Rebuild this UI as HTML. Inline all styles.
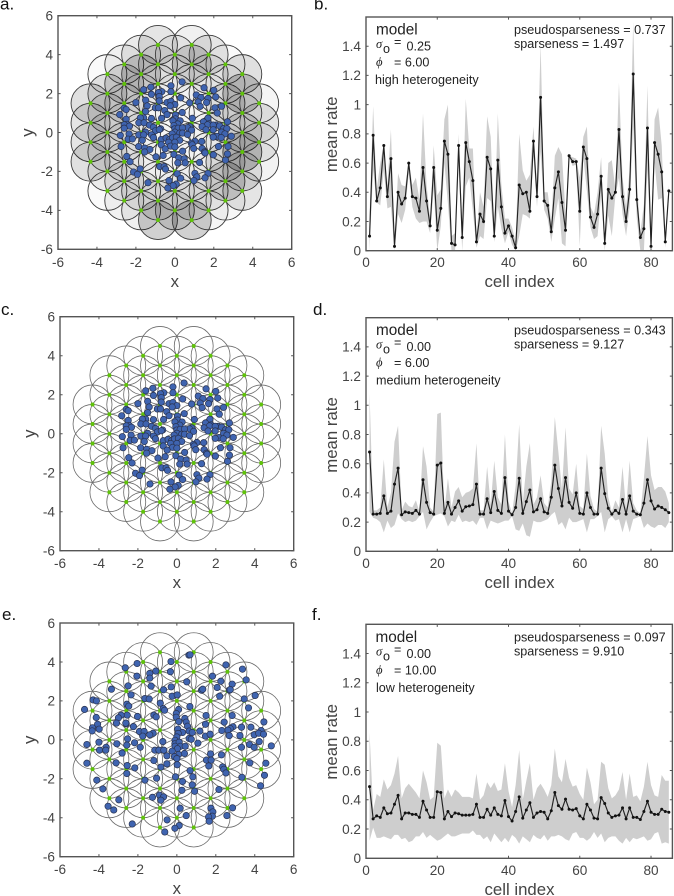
<!DOCTYPE html>
<html><head><meta charset="utf-8"><title>Model heterogeneity panels</title>
<style>
html,body{margin:0;padding:0;background:#fff}
svg{display:block;font-family:"Liberation Sans",Arial,sans-serif}
.tick{font-size:13.6px;fill:#444}
.axl{font-size:16.8px;fill:#444}
.pl{font-size:17px;fill:#111}
.big{font-size:15.3px;fill:#222}
.sm{font-size:12.6px;fill:#222}
.gk{font-size:12.6px;fill:#222;font-family:"Liberation Serif","DejaVu Serif",serif;font-style:italic}
</style></head>
<body>
<svg id="fig" xmlns="http://www.w3.org/2000/svg" width="674" height="896" viewBox="0 0 674 896">
<rect width="674" height="896" fill="#fff"/>
<text class="pl" x="0" y="9.5">a.</text>
<text class="pl" x="314" y="9.5">b.</text>
<text class="pl" x="1" y="315">c.</text>
<text class="pl" x="313" y="315">d.</text>
<text class="pl" x="2" y="620">e.</text>
<text class="pl" x="312" y="620">f.</text>

<g>
<text class="big" x="376" y="34.5">model</text>
<text class="gk" x="376" y="48">σ</text>
<text class="sm" x="383" y="53">o</text>
<text class="sm" x="394" y="46">=</text>
<text class="sm" x="406.5" y="50.5">0.25</text>
<text class="gk" x="376" y="66">ϕ</text>
<text class="sm" x="394" y="66.5">= 6.00</text>
<text class="sm" x="375" y="84">high heterogeneity</text>
<text class="sm" x="514" y="34">pseudosparseness = 0.737</text>
<text class="sm" x="514" y="48">sparseness = 1.497</text>
</g>
<g>
<text class="big" x="376" y="335">model</text>
<text class="gk" x="376" y="348.5">σ</text>
<text class="sm" x="383" y="353.5">o</text>
<text class="sm" x="394" y="346.5">=</text>
<text class="sm" x="406.5" y="351">0.00</text>
<text class="gk" x="376" y="366.5">ϕ</text>
<text class="sm" x="394" y="367">= 6.00</text>
<text class="sm" x="376" y="384.5">medium heterogeneity</text>
<text class="sm" x="514" y="334.5">pseudosparseness = 0.343</text>
<text class="sm" x="514" y="348.5">sparseness = 9.127</text>
</g>
<g>
<text class="big" x="375.5" y="642">model</text>
<text class="gk" x="376" y="655.5">σ</text>
<text class="sm" x="383" y="660.5">o</text>
<text class="sm" x="394" y="653.5">=</text>
<text class="sm" x="406.5" y="658">0.00</text>
<text class="gk" x="376" y="674">ϕ</text>
<text class="sm" x="394" y="674.5">= 10.00</text>
<text class="sm" x="376" y="692">low heterogeneity</text>
<text class="sm" x="514" y="641.5">pseudosparseness = 0.097</text>
<text class="sm" x="514" y="655.5">sparseness = 9.910</text>
</g>
</svg>
<script>
const scatterTicks = [-6,-4,-2,0,2,4,6];
const cellTicks = [0,20,40,60,80];
const rateTicks = [0,0.2,0.4,0.6,0.8,1,1.2,1.4];

const columnRowCounts = [4,7,8,9,10,9,10,9,8,7,4];
const fieldShade = [
.12,.1,.1,.12,
.02,.1,.08,.08,.06,.06,.02,
.06,.12,.08,.05,.05,.06,.08,.05,
.08,.16,.05,.02,.02,.02,.03,.06,.06,
.1,.08,.02,.01,.01,.01,.01,.02,.08,.18,
.05,.04,.01,.01,.01,.01,.01,.03,.1,
.06,.14,.02,.01,.01,.01,.01,.04,.07,.18,
.1,.06,.02,.01,.02,.02,.03,.05,.04,
.02,.03,.1,.05,.05,.1,.14,.03,
.12,.18,.05,.1,.2,.1,.1,
.04,.1,.08,.05];

const somataCentral = [[.37,2.6],[-.2,2.4],[1.5,2.3],[-1.6,2.2],[-1.23,2.33],[-.67,2.1],[-.84,2.05],[-.2,2.1],[2,2.17],[1.1,1.93],[-1.2,1.96],[-.8,1.85],[2.1,1.83],[1.34,1.8],[1.7,1.75],[.3,1.78],[-1.5,1.66],[-.8,1.62],[-.4,1.54],[-.2,1.6],[-2,1.54],[1.2,1.57],[.76,1.52],[1.63,1.54],[0,1.44],[-.24,1.37],[-1.42,1.37],[1.3,1.34],[2.4,1.35],[-1,1.27],[-.84,1.27],[2.06,1.27],[-2.6,1.25],[-2.5,1.18],[-1.5,1.08],[-.52,1.13],[.38,1.03],[2.18,1],[-2.83,.92],[-.4,.92],[.03,.9],[-1.6,.75],[-1.77,.75],[-.68,.73],[-1.2,.72],[.9,.73],[1.7,.74],[-2.5,.68],[.03,.7],[-.1,.6],[.27,.6],[2.7,.55],[-1.85,.5],[-1.58,.5],[-2.45,.42],[-2.6,.4],[-1.3,.38],[.15,.44],[1.47,.55],[1.75,.45],[2.13,.38],[1.68,.4],[1.97,.38],[2.3,.34],[.77,.3],[.65,.25],[1.4,.3],[-.05,.36],[0,.19],[-1.1,.27],[-2.33,.33],[-2.6,.22],[.17,.22],[.39,.24],[2.5,.2],[2.67,.2],[1.6,.14],[1.97,.14],[-1,.09],[-.73,.19],[-.8,.15],[.86,.12],[-1.5,.02],[2.4,.02],[0,.02],[.25,-.03],[.39,-.03],[-.14,-.07],[.65,-.1],[-2.35,-.07],[2.57,-.07],[-2.8,-.15],[-1.85,-.12],[-1.6,-.12],[-1.2,-.12],[2.9,-.19],[2.16,-.2],[1.97,-.24],[2.38,-.26],[-2.4,-.34],[-2.18,-.33],[-1.1,-.26],[-1.67,-.4],[-.7,-.36],[-.45,-.29],[-.27,-.36],[-.12,-.27],[.08,-.24],[.25,-.4],[0,-.5],[-.32,-.5],[1.03,-.45],[1.38,-.46],[.85,-.55],[2.24,-.72],[2.73,-.72],[-.7,-.63],[-.22,-.7],[0,-.74],[.89,-.63],[.97,-.82],[-1.86,-.72],[-2.76,-.72],[-1.55,-.8],[-1.28,-.87],[-.5,-.84],[1.4,-.82],[1.52,-1],[-1.55,-1],[1.55,-1.05],[.4,-.96],[-.05,-1.13],[-.6,-1.18],[-.97,-1.25],[1.98,-1.15],[2.7,-1.1],[-2.47,-1.23],[.2,-1.3],[.48,-1.35],[2.6,-1.42],[-2.3,-1.5],[.15,-1.56],[.53,-1.56],[1.27,-1.54],[-.77,-1.75],[-.55,-1.75],[-.48,-1.88],[-1.78,-1.87],[-2.12,-2.03],[-1.92,-2.15],[.12,-2.12],[1.03,-2.1],[1.7,-2.1],[1.13,-2.28],[.3,-2.35],[1.55,-2.33],[.98,-2.47],[-.3,-2.47],[-1.38,-2.58],[.07,-2.65],[-.09,-2.73],[-.36,-2.85]];

const somataSpread = [[.62,4.35],[.68,4.37],[-.3,4.02],[-2.04,3.92],[2.52,3.85],[-2.65,3.7],[3.37,3.63],[-1.08,3.53],[-.33,3.5],[-1.39,3.41],[-2.05,3.27],[-1.39,3.17],[1.83,3.27],[3.56,3.08],[.51,2.98],[2.26,3.01],[2.84,2.86],[-2.5,2.77],[-1.32,2.76],[-.29,2.72],[2.07,2.69],[-3.36,2.6],[1.27,2.55],[1.33,2.6],[-.68,2.57],[2.7,2.55],[2.74,2.58],[-2.35,2.31],[4.02,2.28],[2.2,2.24],[-.24,2.24],[.02,2.31],[-1.64,2.12],[-1.42,2.1],[-4.3,2.05],[-4.13,2],[3.46,2.1],[-.85,1.88],[-2.57,1.83],[-2.47,1.73],[.67,1.71],[-4.74,1.56],[3.68,1.64],[-.7,1.6],[-.63,1.52],[.09,1.56],[-.03,1.35],[-1.18,1.27],[-1.06,1.18],[-2.55,1.27],[-2.86,1.27],[-2.02,1.2],[1.5,1.25],[2.84,1.25],[-4.14,1.15],[-3,1.13],[-.03,1.16],[.41,1.1],[.1,.94],[.48,.91],[2.43,.91],[4.47,.92],[-3.1,.86],[-2.6,.82],[-2.62,.86],[-4.07,.8],[1.47,.8],[.55,.7],[-2.23,.68],[-4.33,.62],[-3.99,.55],[.05,.55],[2.88,.67],[2.74,.58],[2.62,.5],[3.32,.65],[3.8,.65],[2.31,.48],[.63,.45],[1.18,.45],[-1.92,.43],[-1.68,.43],[.29,.38],[.79,.38],[4.33,.48],[-1.22,.34],[-1.39,.26],[-1.75,.19],[.07,.33],[1.47,.19],[1.71,.29],[2.69,.22],[3.24,.22],[3.97,.26],[4.2,.34],[4.45,.29],[-4.35,.46],[.63,.07],[-2.53,.05],[0,.15],[-.09,-.02],[.74,.03],[-.72,-.09],[-4,-.12],[4.23,-.09],[-2.17,-.15],[-3.08,-.2],[1.08,-.17],[-2.57,-.27],[-.1,-.2],[.12,-.12],[-4.62,-.24],[3.73,-.24],[3.32,-.38],[-1.88,-.38],[3.97,-.38],[4.85,-.31],[-3.63,-.38],[-3.97,-.53],[-3.65,-.53],[-.09,-.33],[.19,-.33],[.43,-.33],[.03,-.45],[-1.13,-.53],[-.92,-.53],[-.67,-.53],[-.24,-.58],[-2.81,-.68],[.39,-.7],[.09,-.75],[1.73,-.72],[2.29,-.77],[-.51,-.82],[-.12,-.86],[0,-.96],[1.52,-1.04],[1.76,-1.04],[-1.18,-1.06],[-3.12,-1.18],[-4.62,-1.2],[3.75,-1.18],[4.57,-1.2],[-.51,-1.23],[.02,-1.28],[-2.55,-1.32],[1.64,-1.34],[-.82,-1.4],[-2.16,-1.44],[2.35,-1.39],[2.41,-1.51],[2.52,-1.7],[.68,-1.58],[4.5,-1.82],[-2.57,-1.73],[.82,-1.9],[-.07,-1.9],[-1.04,-1.97],[3.34,-1.92],[-4.11,-2.07],[-1.64,-2.07],[.29,-2.14],[.79,-2.31],[4.3,-2.36],[-3.8,-2.52],[2.16,-2.55],[.26,-2.59],[.91,-2.64],[-.89,-2.84],[-.68,-2.93],[-1.25,-2.95],[-.82,-3.1],[-2.98,-3.08],[-3.53,-3.41],[-3.24,-3.6],[2.86,-3.49],[1.75,-3.51],[.17,-3.51],[1.85,-3.7],[2.57,-3.89],[.48,-3.89],[1.82,-3.92],[1.63,-3.96],[-.5,-4.11],[1.66,-4.18],[-2.29,-4.32],[.12,-4.4],[-.1,-4.54],[-.62,-4.73]];

const rateB = [.1,.79,.34,.43,.72,.37,.63,.03,.4,.32,.36,.6,.37,.36,.27,.57,.34,.17,.57,.14,.29,.75,.66,.05,.04,.72,.09,.74,.61,.48,.06,.25,.2,.64,.56,.1,.62,.3,.12,.17,.1,.02,.45,.39,.4,.27,.75,.37,1.05,.34,.31,.13,.43,.54,.33,.14,.65,.61,.61,.27,.71,.63,.23,.16,.25,.51,.05,.42,.36,.4,.83,.37,.2,.42,1.21,.35,.09,.15,.84,.03,.74,.66,.54,.06,.41];
const upperB = [.25,.99,.42,.6,.73,.45,.83,.08,.53,.45,.44,.62,.45,.5,.35,.94,.45,.22,.72,.38,.42,.9,1,.1,.12,.8,.2,1.04,.7,.7,.1,.4,.3,.92,.78,.14,.94,.45,.22,.22,.16,.06,.8,.55,.48,.52,.85,.44,1.42,.4,.4,.2,.65,.71,.66,.25,.65,.64,.63,.5,.78,.85,.3,.25,.4,.64,.1,.6,.62,.42,1.15,.5,.3,.55,1.57,.48,.12,.32,1.13,.08,.9,.98,.72,.1,.45];
const lowerB = [0,.55,.33,.31,.55,.29,.3,0,.25,.19,.28,.53,.3,.22,.19,.2,.2,.12,.42,0,.17,.6,.32,0,0,.6,0,.44,.5,.27,.02,.1,.08,.36,.34,.06,.3,.15,.05,.13,.04,0,.1,.25,.24,.22,.65,.3,.68,.28,.22,.06,.22,.36,.05,.03,.64,.58,.59,.03,.64,.41,.16,.08,.1,.38,0,.24,.1,.38,.5,.25,.1,.3,.85,.22,0,0,.55,0,.6,.35,.36,.02,.37];

const rateD = [.68,.255,.255,.26,.38,.26,.275,.46,.57,.25,.27,.265,.26,.28,.255,.49,.335,.265,.255,.59,.605,.26,.335,.255,.3,.345,.275,.305,.31,.32,.46,.255,.255,.36,.265,.41,.28,.26,.505,.275,.25,.3,.5,.26,.34,.42,.27,.285,.36,.27,.26,.37,.59,.43,.31,.505,.335,.295,.4,.26,.255,.4,.3,.255,.255,.57,.395,.295,.255,.28,.26,.355,.255,.38,.275,.255,.25,.33,.49,.345,.29,.31,.3,.285,.265];
const upperD = [1.08,.28,.28,.3,.63,.3,.4,.75,.86,.28,.34,.31,.3,.35,.27,.72,.58,.3,.27,.94,.95,.28,.5,.3,.41,.44,.37,.4,.41,.43,.74,.28,.28,.58,.32,.62,.37,.32,.8,.34,.26,.45,.87,.33,.58,.74,.32,.37,.52,.33,.3,.48,.92,.68,.42,.85,.43,.39,.6,.31,.29,.67,.38,.29,.27,.86,.67,.37,.27,.35,.3,.58,.29,.62,.33,.28,.26,.5,.79,.52,.42,.44,.44,.41,.33];
const lowerD = [.27,.23,.22,.2,.13,.21,.16,.18,.26,.22,.2,.21,.2,.21,.24,.27,.15,.2,.24,.25,.26,.24,.17,.21,.2,.25,.2,.21,.2,.21,.18,.23,.23,.15,.21,.2,.19,.2,.21,.21,.24,.15,.14,.19,.11,.1,.21,.2,.2,.21,.22,.25,.27,.18,.2,.15,.23,.2,.2,.21,.22,.13,.22,.22,.24,.27,.13,.22,.24,.21,.22,.13,.22,.13,.22,.23,.24,.16,.19,.17,.16,.18,.18,.16,.2];

const rateF = [.49,.27,.29,.28,.345,.305,.31,.37,.43,.27,.31,.31,.3,.3,.28,.39,.33,.28,.28,.455,.45,.27,.32,.285,.31,.305,.295,.295,.295,.3,.37,.28,.28,.335,.295,.345,.3,.29,.395,.285,.255,.32,.42,.275,.33,.38,.28,.31,.32,.315,.27,.325,.45,.36,.335,.405,.335,.33,.34,.29,.27,.37,.33,.275,.27,.415,.375,.31,.28,.29,.295,.345,.27,.345,.28,.28,.265,.32,.39,.315,.3,.3,.335,.32,.315];
const upperF = [.86,.33,.44,.42,.54,.47,.5,.58,.7,.41,.48,.51,.48,.45,.41,.6,.52,.4,.42,.79,.77,.41,.47,.42,.47,.45,.42,.42,.42,.41,.58,.4,.43,.52,.48,.52,.46,.47,.65,.46,.35,.5,.74,.4,.53,.65,.4,.48,.51,.47,.42,.5,.75,.56,.52,.68,.55,.49,.5,.44,.4,.62,.52,.37,.4,.66,.64,.48,.41,.43,.47,.59,.4,.58,.42,.43,.39,.49,.66,.5,.43,.42,.57,.53,.53];
const lowerF = [.12,.21,.14,.14,.15,.14,.13,.16,.16,.13,.14,.11,.12,.15,.15,.18,.14,.16,.14,.12,.13,.15,.17,.15,.15,.16,.17,.17,.17,.19,.16,.16,.13,.15,.11,.17,.14,.11,.14,.11,.16,.14,.1,.15,.13,.11,.16,.14,.13,.16,.12,.15,.15,.16,.15,.13,.12,.17,.18,.14,.14,.12,.14,.18,.14,.17,.11,.14,.15,.15,.12,.1,.14,.11,.14,.13,.14,.15,.12,.13,.17,.18,.1,.11,.1];

const NS = 'http://www.w3.org/2000/svg';
const fig = document.getElementById('fig');
function mk(tag, attrs, parent, text) {
  const el = document.createElementNS(NS, tag);
  for (const k in attrs) el.setAttribute(k, attrs[k]);
  if (text !== undefined) el.textContent = text;
  parent.appendChild(el);
  return el;
}

function drawFrame(g, box, xs, ys, sx, sy, xFmtBase, yFmtRight) {
  const frame = mk('rect', {x: box.l, y: box.t, width: box.r - box.l, height: box.b - box.t, fill: 'none', stroke: '#555', 'stroke-width': 1.4}, g);
  
  
  xs.forEach(v => {
    const px = sx(v);
    const t1 = mk('path', {d: `M${px} ${box.b}v-2.6M${px} ${box.t}v2.6`, stroke: '#555', 'stroke-width': 1, fill: 'none'}, g);
    
    
    const lb = mk('text', {class: 'tick', x: px, y: box.b + xFmtBase, 'text-anchor': 'middle'}, g, String(v));
    
    
  });
  ys.forEach(v => {
    const py = sy(v);
    const t2 = mk('path', {d: `M${box.l} ${py}h2.6M${box.r} ${py}h-2.6`, stroke: '#555', 'stroke-width': 1, fill: 'none'}, g);
    
    
    const lb = mk('text', {class: 'tick', x: box.l - yFmtRight, y: py + 4.8, 'text-anchor': 'end'}, g, String(v));
    
    
  });
}

function drawField(name, box, somata, shaded) {
  const g = mk('g', {}, fig);
  
  
  const sx = v => box.l + (v + 6) * (box.r - box.l) / 12;
  const sy = v => box.b - (v + 6) * (box.b - box.t) / 12;
  const rx = (box.r - box.l) / 12, ry = (box.b - box.t) / 12;
  const centres = [];
  columnRowCounts.forEach((n, c) => {
    for (let j = 0; j < n; j++) centres.push([(c - 5) * 0.866, (n - 1) / 2 - j]);
  });
  centres.forEach((p, i) => {
    const f = mk('ellipse', {cx: sx(p[0]), cy: sy(p[1]), rx: rx, ry: ry,
      fill: shaded ? 'rgba(0,0,0,' + fieldShade[i] + ')' : 'none',
      stroke: shaded ? '#3a3a3a' : '#6a6a6a', 'stroke-width': shaded ? 0.9 : 0.8}, g);
    
    
  });
  centres.forEach(p => {
    const d = mk('circle', {cx: sx(p[0]), cy: sy(p[1]), r: 2, fill: '#5fc20a'}, g);
    
    
  });
  somata.forEach(p => {
    const s = mk('circle', {cx: sx(p[0]), cy: sy(p[1]), r: 3.2, fill: '#3f64b0', stroke: '#2a3350', 'stroke-width': 0.7}, g);
    
    
  });
  drawFrame(g, box, scatterTicks, scatterTicks, sx, sy, 17.5, 5);
  const xl = mk('text', {class: 'axl', x: (box.l + box.r) / 2, y: box.b + 37.5, 'text-anchor': 'middle'}, g, 'x');
  
  
  const cy = (box.t + box.b) / 2;
  const yl = mk('text', {class: 'axl', x: box.l - 25, y: cy, 'text-anchor': 'middle', transform: `rotate(-90 ${box.l - 25} ${cy})`}, g, 'y');
  
  
}

function drawRates(name, box, rate, upper, lower) {
  const g = mk('g', {}, fig);
  
  
  const sx = v => box.l + v * (box.r - box.l) / 86;
  const sy = v => box.b - v * (box.b - box.t) / 1.6;
  const clipId = name + '-clip';
  const defs = mk('defs', {}, g);
  const cp = mk('clipPath', {id: clipId}, defs);
  mk('rect', {x: box.l, y: box.t, width: box.r - box.l, height: box.b - box.t}, cp);
  const plot = mk('g', {'clip-path': `url(#${clipId})`}, g);
  const top = upper.map((v, i) => `${sx(i + 1).toFixed(2)},${sy(v).toFixed(2)}`);
  const bot = lower.map((v, i) => `${sx(i + 1).toFixed(2)},${sy(v).toFixed(2)}`).reverse();
  const band = mk('polygon', {points: top.concat(bot).join(' '), fill: '#cecece'}, plot);
  
  
  const line = mk('polyline', {points: rate.map((v, i) => `${sx(i + 1).toFixed(2)},${sy(v).toFixed(2)}`).join(' '), fill: 'none', stroke: '#222', 'stroke-width': 1.15}, plot);
  
  
  rate.forEach((v, i) => {
    const m = mk('circle', {cx: sx(i + 1), cy: sy(v), r: 1.5, fill: '#111'}, plot);
    
    
  });
  drawFrame(g, box, cellTicks, rateTicks, sx, sy, 16.5, 5);
  const xl = mk('text', {class: 'axl', x: 519.5, y: box.b + 36.5, 'text-anchor': 'middle'}, g, 'cell index');
  
  
  const cy = (box.t + box.b) / 2 + 0.5;
  const yl = mk('text', {class: 'axl', x: 337, y: cy, 'text-anchor': 'middle', transform: `rotate(-90 337 ${cy})`}, g, 'mean rate');
  
  
}

drawField('panel-a-field-map', {l: 58, r: 291.7, t: 15.7, b: 249.3}, somataCentral, true);
drawField('panel-c-field-map', {l: 60, r: 293.7, t: 316.7, b: 550.7}, somataCentral, false);
drawField('panel-e-field-map', {l: 60, r: 293.7, t: 623, b: 856.7}, somataSpread, false);
drawRates('panel-b-rate-chart', {l: 366, r: 672.4, t: 17, b: 250.7}, rateB, upperB, lowerB);
drawRates('panel-d-rate-chart', {l: 366, r: 672.4, t: 317.7, b: 551.3}, rateD, upperD, lowerD);
drawRates('panel-f-rate-chart', {l: 366, r: 672.4, t: 624.3, b: 858.3}, rateF, upperF, lowerF);
</script>
</body></html>
